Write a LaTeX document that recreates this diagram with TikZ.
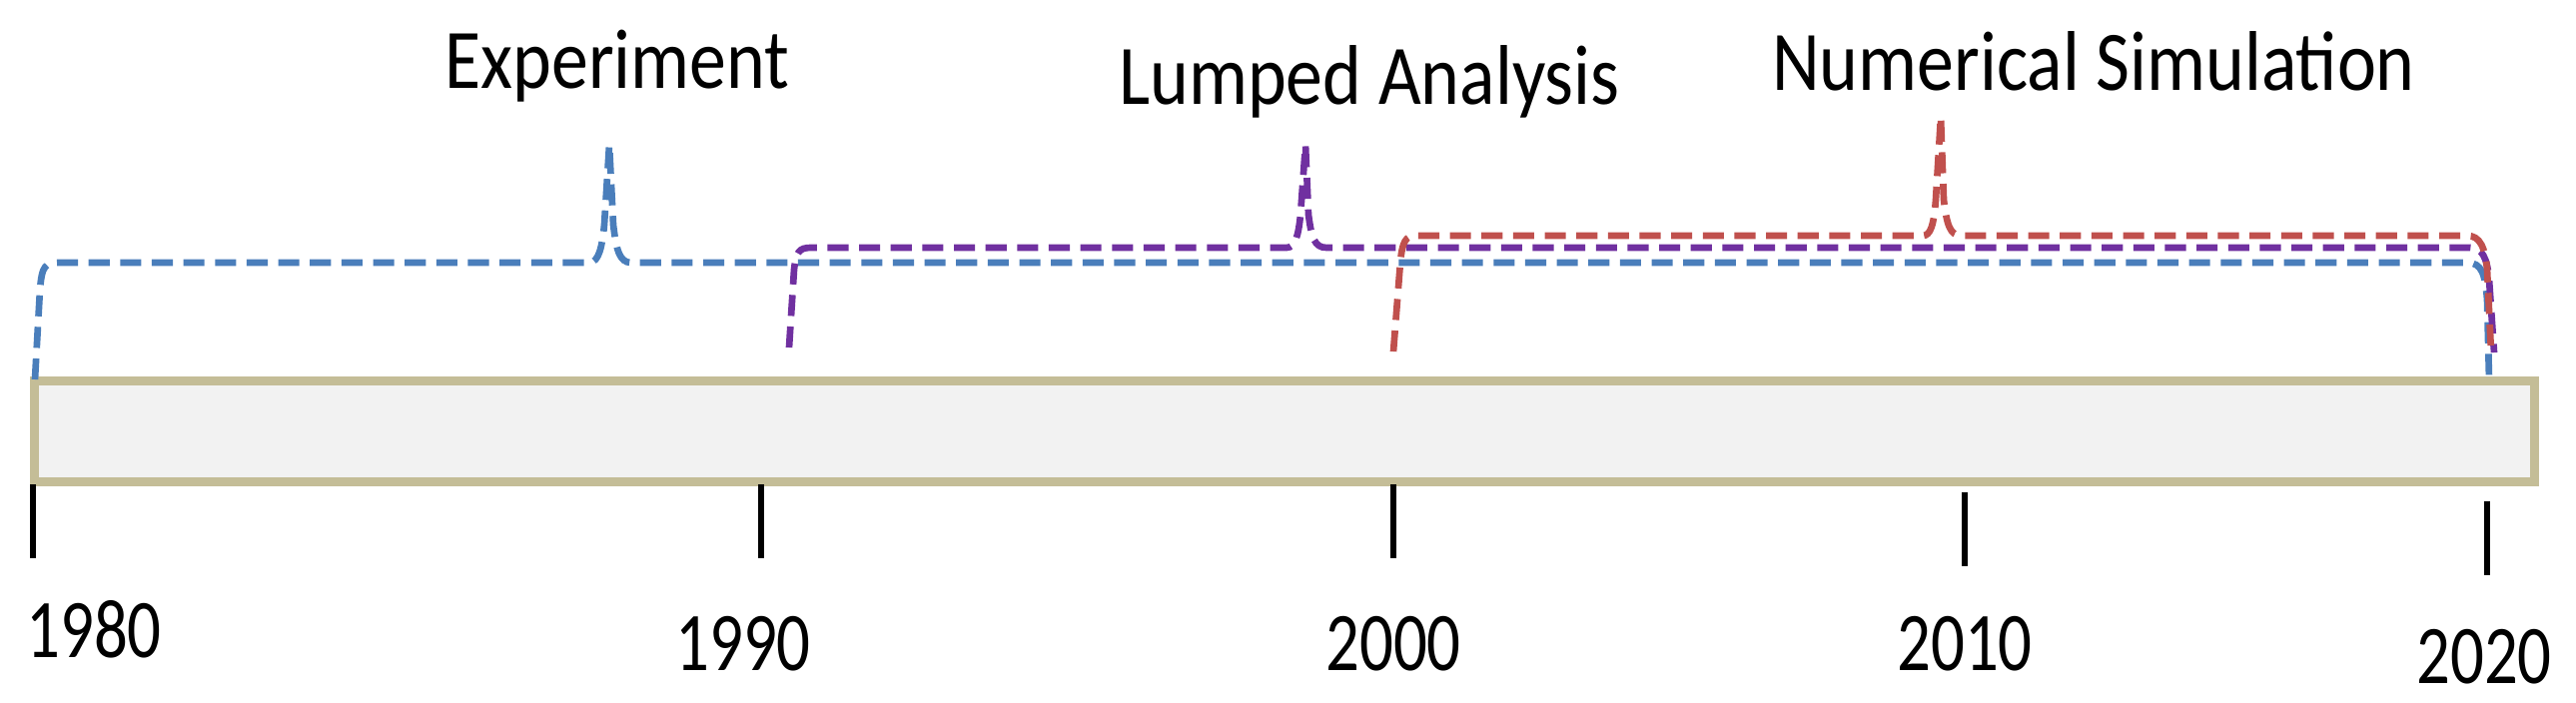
\documentclass[tikz,border=0pt]{standalone}
\usepackage{fontspec}
\setmainfont{Carlito}
\usepackage{tikz}
\usetikzlibrary{positioning}

\definecolor{expblue}{HTML}{4A7EBB}
\definecolor{lumppurple}{HTML}{7030A0}
\definecolor{numred}{HTML}{C0504D}
\definecolor{bartan}{HTML}{C4BD97}
\definecolor{bargray}{HTML}{F2F2F2}

\begin{document}
\begin{tikzpicture}[x=0.01cm,y=-0.01cm,
	brace/.style={line width=1.9pt, dash pattern=on 6pt off 3pt},
	toplabel/.style={font=\fontsize{21}{24}\selectfont, inner sep=0pt, yscale=1.15, transform shape},
	yearlabel/.style={font=\fontsize{19}{22}\selectfont, inner sep=0pt, yscale=1.25, transform shape},
	yeartick/.style={line width=1.5pt}]
			\useasboundingbox (0,0) rectangle (2579,703);
			% time bar
			\node[draw=bartan, fill=bargray, line width=2.6pt, inner sep=0pt,
				minimum width=25.02cm, minimum height=1.01cm] (bar) at (1286,432) {};
			% ticks and years
			\foreach \yr/\tx/\ta/\tb/\lx/\ly in {1980/33/485/559/94/630, 1990/762/485/559/744/645,
				2000/1395/485/559/1395/645, 2010/1967/493/567/1967/645, 2020/2490/502/576/2487/658}{
				\coordinate (t\yr) at (\tx,\ta);
				\coordinate (b\yr) at (\tx,\tb);
				\draw[yeartick] (t\yr) -- (b\yr);
				\node[yearlabel] (y\yr) at (\lx,\ly) {\yr};
			}
			% labels
			\node[toplabel] (experiment) at (618,66) {Experiment};
			\node[toplabel] (lumped) at (1371,82) {Lumped Analysis};
			\node[toplabel] (numerical) at (2096,61) {Numerical Simulation};
			% braces
			\draw[brace, expblue] (35,380) -- (40,290) .. controls (42,266) and (45,263) .. (60,263)
				-- (590,263) .. controls (600,263) and (603,245) .. (605,225) -- (610,145)
				-- (614,225) .. controls (617,250) and (620,263) .. (632,263)
				-- (2470,263) .. controls (2485,263) and (2488,275) .. (2490,300) -- (2492,380);
			\draw[brace, lumppurple] (790,348) -- (795,270) .. controls (797,252) and (800,248) .. (812,248)
				-- (1288,248) .. controls (1297,248) and (1300,235) .. (1302,215) -- (1307,145)
				-- (1310,215) .. controls (1313,238) and (1316,248) .. (1328,248)
				-- (2473,248) .. controls (2485,248) and (2490,258) .. (2492,280) -- (2497,353);
			\draw[brace, numred] (1395,352) -- (1402,262) .. controls (1404,242) and (1407,236) .. (1418,236)
				-- (1925,236) .. controls (1933,236) and (1936,225) .. (1938,200) -- (1943,117)
				-- (1946,200) .. controls (1949,225) and (1952,236) .. (1964,236)
				-- (2470,236) .. controls (2483,236) and (2488,248) .. (2490,270) -- (2494,353);
		\end{tikzpicture}
\end{document}
